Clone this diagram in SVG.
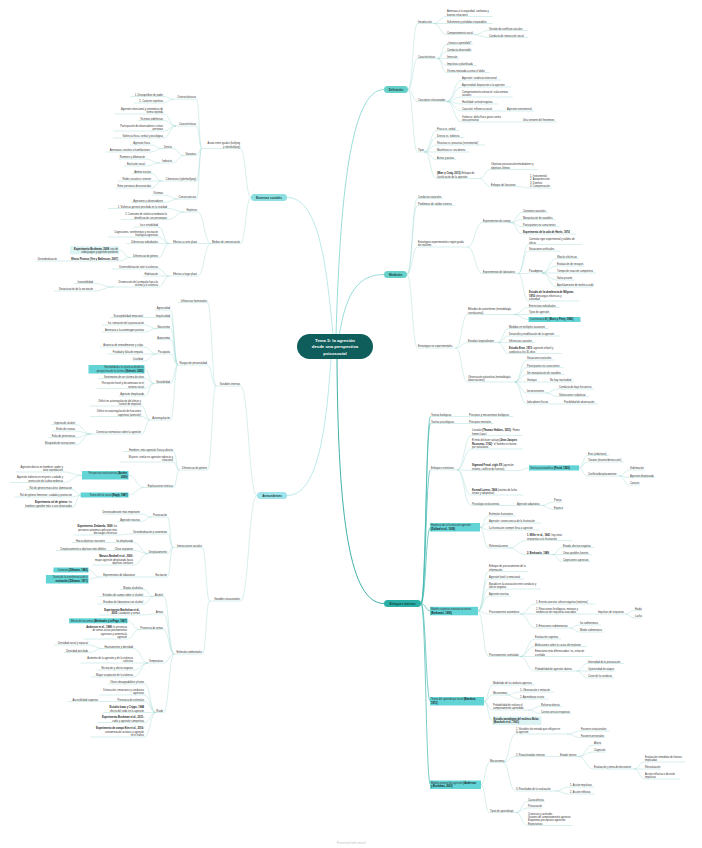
<svg xmlns="http://www.w3.org/2000/svg" width="702" height="848" viewBox="0 0 702 848">
<style>
.t{font-family:"Liberation Sans",Arial,sans-serif;font-size:2.55px;fill:#333}
.r{text-anchor:end}
.b{font-weight:700;fill:#1a1a1a}
.u{stroke:#9fd8d3;stroke-width:0.42;fill:none}
.c{stroke:#9fd8d3;stroke-width:0.42;fill:none}
.e{stroke:#3fb7af;stroke-width:0.7;fill:none}
.md{stroke:#6ccfc9;stroke-width:0.7;fill:none}
.ml{stroke:#9fe0e4;stroke-width:0.7;fill:none}
.me{stroke:#2aa79f;stroke-width:0.9;fill:none}
.hl{fill:#62d4d6}
.lb{fill:#dcf3f4}
.k{font-family:"Liberation Sans",Arial,sans-serif;font-size:3px;font-weight:700;fill:#123f3d;text-anchor:middle}
</style>
<rect width="702" height="848" fill="#ffffff"/>
<g id="connectors">
<path class="md" d="M336 336C340 200 350 89.5 384 89.5M339 337C346 290 360 274.5 384 274.5"/>
<path class="ml" d="M333 334C326 260 318 197.5 287 197.5M331 359C326 430 318 495.5 287 495.5"/>
<path class="me" d="M337 359C338 520 350 603.5 384 603.5"/>
<path class="c" d="M408 89.5C412.8 89.5 412.8 23.5 417.5 23.5M408 89.5C412.8 89.5 412.8 58.5 417.5 58.5M408 89.5C412.8 89.5 412.8 101.5 417.5 101.5M408 89.5C412.8 89.5 412.8 152 417.5 152"/>
<path class="c" d="M433.6 23.5C440 23.5 440 16.5 446.5 16.5M433.6 23.5H446.5M433.6 23.5C440 23.5 440 34.5 446.5 34.5M474.3 34.5C481.4 34.5 481.4 30.5 488.5 30.5M474.3 34.5C481.4 34.5 481.4 37.5 488.5 37.5"/>
<path class="c" d="M437.5 58.5C442 58.5 442 44.5 446.5 44.5M437.5 58.5C442 58.5 442 51.5 446.5 51.5M437.5 58.5H446.5M437.5 58.5C442 58.5 442 65.5 446.5 65.5M437.5 58.5C442 58.5 442 72.5 446.5 72.5"/>
<path class="c" d="M446.6 101.5C454 101.5 454 80 461.5 80M446.6 101.5C454 101.5 454 87 461.5 87M446.6 101.5C454 101.5 454 97 461.5 97M446.6 101.5C454 101.5 454 104 461.5 104M446.6 101.5C454 101.5 454 111 461.5 111M446.6 101.5C454 101.5 454 122 461.5 122M497.1 111H506.5M507.5 122H522.5"/>
<path class="c" d="M424.5 152C430.5 152 430.5 130.5 436.5 130.5M424.5 152C430.5 152 430.5 137.5 436.5 137.5M424.5 152C430.5 152 430.5 145 436.5 145M424.5 152H436.5M424.5 152C430.5 152 430.5 159.5 436.5 159.5M424.5 152C430.5 152 430.5 178.5 436.5 178.5M479.3 178.5C485 178.5 485 169.5 490.5 169.5M479.3 178.5C485 178.5 485 186.5 490.5 186.5M517 186.5C523.3 186.5 523.3 188 529.5 188"/>
<path class="c" d="M407 274.5C412.2 274.5 412.2 198.5 417.5 198.5M407 274.5C412.2 274.5 412.2 205.5 417.5 205.5M407 274.5C412.2 274.5 412.2 247 417.5 247M407 274.5C412.2 274.5 412.2 348 417.5 348"/>
<path class="c" d="M467.4 247C475 247 475 222.5 482.5 222.5M467.4 247C475 247 475 273.5 482.5 273.5M510.3 222.5C516.4 222.5 516.4 212.5 522.5 212.5M510.3 222.5C516.4 222.5 516.4 219.5 522.5 219.5M510.3 222.5C516.4 222.5 516.4 226.5 522.5 226.5M510.3 222.5C516.4 222.5 516.4 234 522.5 234"/>
<path class="c" d="M518.1 273.5C523.3 273.5 523.3 244.5 528.5 244.5M518.1 273.5C523.3 273.5 523.3 251 528.5 251M518.1 273.5H528.5M518.1 273.5C523.3 273.5 523.3 301 528.5 301M542 273C549.2 273 549.2 258.5 556.5 258.5M542 273C549.2 273 549.2 266 556.5 266M542 273H556.5M542 273C549.2 273 549.2 280 556.5 280M542 273C549.2 273 549.2 287 556.5 287"/>
<path class="c" d="M455.7 348C461.6 348 461.6 314.5 467.5 314.5M455.7 348C461.6 348 461.6 342.5 467.5 342.5M455.7 348C461.6 348 461.6 382 467.5 382M513.5 314.5C521 314.5 521 307.5 528.5 307.5M513.5 314.5H528.5M513.5 314.5C521 314.5 521 319.5 528.5 319.5"/>
<path class="c" d="M497.9 342.5C503.2 342.5 503.2 328.5 508.5 328.5M497.9 342.5C503.2 342.5 503.2 336 508.5 336M497.9 342.5H508.5M497.9 342.5C503.2 342.5 503.2 353.5 508.5 353.5"/>
<path class="c" d="M514.8 382C520.6 382 520.6 360 526.5 360M514.8 382C520.6 382 520.6 367.5 526.5 367.5M514.8 382C520.6 382 520.6 374.5 526.5 374.5M514.8 382H526.5M514.8 382C520.6 382 520.6 393 526.5 393M514.8 382C520.6 382 520.6 404 526.5 404M537.4 382H549.5M545.2 393C551.8 393 551.8 389 558.5 389M545.2 393C551.8 393 551.8 396.5 558.5 396.5M551.7 404H563.5"/>
<path class="e" d="M421 603.5C425.8 603.5 425.8 416.5 430.5 416.5M421 603.5C425.8 603.5 425.8 423.5 430.5 423.5M421 603.5C425.8 603.5 425.8 469.8 430.5 469.8M421 603.5C425.8 603.5 425.8 527.3 430.5 527.3M421 603.5C425.8 603.5 425.8 611 430.5 611M421 603.5C425.8 603.5 425.8 701.3 430.5 701.3M421 603.5C425.8 603.5 425.8 784.8 430.5 784.8"/>
<path class="c" d="M454.4 416.5H468.5M457 423.5H468.5M457 469.8C464.2 469.8 464.2 435.5 471.5 435.5M457 469.8C464.2 469.8 464.2 449 471.5 449M457 469.8C464.2 469.8 464.2 470.5 471.5 470.5M457 469.8C464.2 469.8 464.2 495 471.5 495M457 469.8C464.2 469.8 464.2 505.5 471.5 505.5"/>
<path class="c" d="M518.5 470.5C523.7 470.5 523.7 467.9 529 467.9M579 467.9C583.2 467.9 583.2 455.5 587.5 455.5M579 467.9C583.2 467.9 583.2 462 587.5 462M579 467.9C583.2 467.9 583.2 476 587.5 476M619.2 476C624.3 476 624.3 470 629.5 470M619.2 476C624.3 476 624.3 477.5 629.5 477.5M619.2 476C624.3 476 624.3 485 629.5 485M503.2 505.5H516.5M541.7 505.5C547.6 505.5 547.6 502 553.5 502M541.7 505.5C547.6 505.5 547.6 509.5 553.5 509.5"/>
<path class="c" d="M480 527.3C484.2 527.3 484.2 516 488.5 516M480 527.3C484.2 527.3 484.2 523 488.5 523M480 527.3C484.2 527.3 484.2 530 488.5 530M480 527.3C484.2 527.3 484.2 548 488.5 548M508.5 548C517.5 548 517.5 540.5 526.5 540.5M508.5 548C517.5 548 517.5 554.5 526.5 554.5M552.2 554.5C557.3 554.5 557.3 547.5 562.5 547.5M552.2 554.5H562.5M552.2 554.5C557.3 554.5 557.3 561.5 562.5 561.5"/>
<path class="c" d="M478 611C483.2 611 483.2 571.5 488.5 571.5M478 611C483.2 611 483.2 579 488.5 579M478 611C483.2 611 483.2 589 488.5 589M478 611C483.2 611 483.2 596 488.5 596M478 611C483.2 611 483.2 614 488.5 614M478 611C483.2 611 483.2 656.5 488.5 656.5"/>
<path class="c" d="M520.2 614C527.8 614 527.8 604 535.5 604M520.2 614H535.5M520.2 614C527.8 614 527.8 628 535.5 628M584.1 614H597.5M625.3 614C629.9 614 629.9 610.5 634.5 610.5M625.3 614C629.9 614 629.9 618 634.5 618M569.8 628C574.6 628 574.6 625 579.5 625M569.8 628C574.6 628 574.6 632 579.5 632"/>
<path class="c" d="M520.2 656.5C527.3 656.5 527.3 639 534.5 639M520.2 656.5C527.3 656.5 527.3 646.5 534.5 646.5M520.2 656.5H534.5M520.2 656.5C527.3 656.5 527.3 671 534.5 671M576.6 671C582 671 582 663.5 587.5 663.5M576.6 671H587.5M576.6 671C582 671 582 678 587.5 678"/>
<path class="c" d="M484 701.3C488.2 701.3 488.2 685 492.5 685M484 701.3C488.2 701.3 488.2 695 492.5 695M484 701.3C488.2 701.3 488.2 710 492.5 710M484 701.3C488.2 701.3 488.2 720.8 492.5 720.8M506 695C512.7 695 512.7 692 519.5 692M506 695C512.7 695 512.7 699 519.5 699M528.1 710C534.3 710 534.3 706.5 540.5 706.5M528.1 710C534.3 710 534.3 713.5 540.5 713.5"/>
<path class="c" d="M481 784.8C485.2 784.8 485.2 762.5 489.5 762.5M481 784.8C485.2 784.8 485.2 812.5 489.5 812.5M503 762.5C509.2 762.5 509.2 734 515.5 734M503 762.5C509.2 762.5 509.2 756.5 515.5 756.5M503 762.5C509.2 762.5 509.2 791 515.5 791M566.7 734C573.6 734 573.6 731 580.5 731M566.7 734C573.6 734 573.6 737.5 580.5 737.5M548.5 756.5H559.5"/>
<path class="c" d="M578.2 756.5C585.8 756.5 585.8 745 593.5 745M578.2 756.5C585.8 756.5 585.8 752 593.5 752M578.2 756.5C585.8 756.5 585.8 769 593.5 769M634.3 769C639.4 769 639.4 762 644.5 762M634.3 769H644.5M634.3 769C639.4 769 639.4 779 644.5 779M555 791C562.2 791 562.2 787 569.5 787M555 791C562.2 791 562.2 794 569.5 794M516 812.5C521.7 812.5 521.7 801.5 527.5 801.5M516 812.5C521.7 812.5 521.7 808 527.5 808M516 812.5C521.7 812.5 521.7 825.5 527.5 825.5"/>
<path class="c" d="M251 197.5C245.7 197.5 245.7 148.5 240.5 148.5M251 197.5C245.7 197.5 245.7 243.5 240.5 243.5"/>
<path class="c" d="M201.8 148.5C199.1 148.5 199.1 99.2 196.5 99.2M201.8 148.5C199.1 148.5 199.1 126 196.5 126M201.8 148.5C199.1 148.5 199.1 155.5 196.5 155.5M201.8 148.5C199.1 148.5 199.1 181 196.5 181M201.8 148.5C199.1 148.5 199.1 199 196.5 199"/>
<path class="c" d="M173.4 99.2C168.4 99.2 168.4 96.5 163.5 96.5M173.4 99.2C168.4 99.2 168.4 103 163.5 103M176 126C169.7 126 169.7 114 163.5 114M176 126C169.7 126 169.7 120.5 163.5 120.5M176 126C169.7 126 169.7 131 163.5 131M176 126C169.7 126 169.7 138 163.5 138"/>
<path class="c" d="M183.8 155.5C178.1 155.5 178.1 148.5 172.5 148.5M183.8 155.5C178.1 155.5 178.1 163 172.5 163M162.4 148.5C156.4 148.5 156.4 145 150.5 145M162.4 148.5C156.4 148.5 156.4 152 150.5 152M159.8 163C152.6 163 152.6 159 145.5 159M159.8 163C152.6 163 152.6 166 145.5 166"/>
<path class="c" d="M161.7 181C156.6 181 156.6 173.5 151.5 173.5M161.7 181H151.5M161.7 181C156.6 181 156.6 188 151.5 188M178.6 199C171 199 171 195 163.5 195M178.6 199C171 199 171 202.5 163.5 202.5"/>
<path class="c" d="M210.9 243.5C204.2 243.5 204.2 212 197.5 212M210.9 243.5H197.5M210.9 243.5C204.2 243.5 204.2 276 197.5 276M184.8 212C176.1 212 176.1 208.5 167.5 208.5M184.8 212C176.1 212 176.1 219.5 167.5 219.5"/>
<path class="c" d="M169.2 243.5C163.8 243.5 163.8 227 158.5 227M169.2 243.5C163.8 243.5 163.8 237 158.5 237M169.2 243.5H158.5M169.2 243.5C163.8 243.5 163.8 257.5 158.5 257.5M130.2 257.5C124.6 257.5 124.6 250.3 119 250.3M130.2 257.5C124.6 257.5 124.6 261 119 261M64.3 261H57.5"/>
<path class="c" d="M169.2 276C163.8 276 163.8 269 158.5 269M169.2 276H158.5M169.2 276C163.8 276 163.8 287 158.5 287M113.3 287C103.4 287 103.4 283.5 93.5 283.5M113.3 287C103.4 287 103.4 291 93.5 291"/>
<path class="c" d="M257 495.5C248.7 495.5 248.7 386 240.5 386M257 495.5C248.7 495.5 248.7 601 240.5 601M216.1 386C211.8 386 211.8 302.5 207.5 302.5M216.1 386C211.8 386 211.8 365 207.5 365M216.1 386C211.8 386 211.8 470 207.5 470"/>
<path class="c" d="M177.9 365C174.2 365 174.2 310 170.5 310M177.9 365C174.2 365 174.2 317.5 170.5 317.5M177.9 365C174.2 365 174.2 328.5 170.5 328.5M177.9 365C174.2 365 174.2 339.5 170.5 339.5M177.9 365C174.2 365 174.2 354 170.5 354M177.9 365C174.2 365 174.2 383.5 170.5 383.5M177.9 365C174.2 365 174.2 420 170.5 420"/>
<path class="c" d="M153.9 317.5H143.5M156.5 328.5C150.5 328.5 150.5 325 144.5 325M156.5 328.5C150.5 328.5 150.5 332 144.5 332M156.5 354C150 354 150 347 143.5 347M156.5 354H143.5M156.5 354C150 354 150 361 143.5 361"/>
<path class="c" d="M153.9 383.5C149.2 383.5 149.2 369.2 144.5 369.2M153.9 383.5C149.2 383.5 149.2 378.5 144.5 378.5M153.9 383.5C149.2 383.5 149.2 388.5 144.5 388.5M153.9 383.5C149.2 383.5 149.2 396 144.5 396"/>
<path class="c" d="M150 420C145.7 420 145.7 406 141.5 406M150 420C145.7 420 145.7 416.5 141.5 416.5M150 420C145.7 420 145.7 434 141.5 434M91.1 434C83.3 434 83.3 424.5 75.5 424.5M91.1 434C83.3 434 83.3 431 75.5 431M91.1 434C83.3 434 83.3 437.5 75.5 437.5M91.1 434C83.3 434 83.3 444.5 75.5 444.5"/>
<path class="c" d="M179.2 470C176.3 470 176.3 451.5 173.5 451.5M179.2 470C176.3 470 176.3 462 173.5 462M179.2 470C176.3 470 176.3 487.5 173.5 487.5M143.9 487.5C136.2 487.5 136.2 475.2 128.5 475.2M143.9 487.5C136.2 487.5 136.2 495 128.5 495"/>
<path class="c" d="M82 475.2C72.7 475.2 72.7 472 63.5 472M82 475.2C72.7 475.2 72.7 482.5 63.5 482.5M80.7 495C76.6 495 76.6 489.5 72.5 489.5M80.7 495C76.6 495 76.6 497 72.5 497M80.7 495C76.6 495 76.6 507.5 72.5 507.5"/>
<path class="c" d="M209.6 601C206 601 206 547.5 202.5 547.5M209.6 601C206 601 206 654 202.5 654M172.9 547.5C170.2 547.5 170.2 517 167.5 517M172.9 547.5C170.2 547.5 170.2 534 167.5 534M172.9 547.5C170.2 547.5 170.2 553.5 167.5 553.5M172.9 547.5C170.2 547.5 170.2 577 167.5 577"/>
<path class="c" d="M152.2 517C146.3 517 146.3 514 140.5 514M152.2 517C146.3 517 146.3 521.5 140.5 521.5M130.1 534C123.8 534 123.8 535 117.5 535M148.3 553.5C140.9 553.5 140.9 542.5 133.5 542.5M148.3 553.5C140.9 553.5 140.9 550.5 133.5 550.5M148.3 553.5C140.9 553.5 140.9 565 133.5 565M114.3 542.5H105.5M111.7 550.5H106.5M153.5 577H135.5M99.4 577C94 577 94 570 88.5 570M99.4 577C94 577 94 579.2 88.5 579.2"/>
<path class="c" d="M174.2 654C168.8 654 168.8 596.5 163.5 596.5M174.2 654C168.8 654 168.8 614 163.5 614M174.2 654C168.8 654 168.8 629.5 163.5 629.5M174.2 654C168.8 654 168.8 663 163.5 663M174.2 654C168.8 654 168.8 712.5 163.5 712.5"/>
<path class="c" d="M153.4 596.5C148.4 596.5 148.4 589.5 143.5 589.5M153.4 596.5H143.5M153.4 596.5C148.4 596.5 148.4 604 143.5 604M156 614C148.2 614 148.2 615 140.5 615M139.1 629.5C133.3 629.5 133.3 620.8 127.5 620.8M139.1 629.5C133.3 629.5 133.3 639 127.5 639"/>
<path class="c" d="M148.2 663C140.8 663 140.8 648.5 133.5 648.5M148.2 663H133.5M148.2 663C140.8 663 140.8 670 133.5 670M148.2 663C140.8 663 140.8 677 133.5 677M102.6 648.5C95.5 648.5 95.5 645 88.5 645M102.6 648.5C95.5 648.5 95.5 652.5 88.5 652.5"/>
<path class="c" d="M156 712.5C150.2 712.5 150.2 684 144.5 684M156 712.5C150.2 712.5 150.2 695 144.5 695M156 712.5C150.2 712.5 150.2 701.5 144.5 701.5M156 712.5H144.5M156 712.5C150.2 712.5 150.2 722.5 144.5 722.5M156 712.5C150.2 712.5 150.2 737 144.5 737M114.9 701.5H98.5"/>
</g>

<g id="central"><rect x="297" y="334" width="76" height="25" rx="12.5" fill="#0f5e5b"/><text font-family="Liberation Sans, Arial, sans-serif" font-size="4.3" font-weight="700" fill="#ffffff" text-anchor="middle"><tspan x="335" y="341.5">Tema 5: la agresión</tspan><tspan x="335" y="348.1">desde una perspectiva</tspan><tspan x="335" y="354.6">psicosocial</tspan></text></g>

<g id="definicion"><rect x="384" y="86" width="24" height="7" rx="3.5" fill="#66d0cb"/><text class="k" x="396" y="90.6">Definición</text></g>
<g id="d1"><text class="t" x="418" y="22.7">Introducción</text><path class="u" d="M417.5 23.5H433.6"/></g>
<g id="d1a"><text class="t"><tspan x="447" y="12.3">Amenaza a la seguridad, confianza y</tspan><tspan x="447" y="15.7">buenas relaciones</tspan></text><path class="u" d="M446.5 16.5H492.5"/></g>
<g id="d1b"><text class="t" x="447" y="22.7">Sufrimiento y pérdidas irreparables</text><path class="u" d="M446.5 23.5H492.5"/></g>
<g id="d1c"><text class="t" x="447" y="33.7">Comportamiento social</text><path class="u" d="M446.5 34.5H474.3"/></g>
<g id="d1c1"><text class="t" x="489" y="29.7">Gestión de conflictos sociales</text><path class="u" d="M488.5 30.5H528"/></g>
<g id="d1c2"><text class="t" x="489" y="36.7">Conducta de interacción social</text><path class="u" d="M488.5 37.5H528"/></g>
<g id="d2"><text class="t" x="418" y="57.7">Características</text><path class="u" d="M417.5 58.5H437.5"/></g>
<g id="d2a"><text class="t" x="447" y="43.7">¿Innato o aprendido?</text><path class="u" d="M446.5 44.5H473"/></g>
<g id="d2b"><text class="t" x="447" y="50.7">Conducta observable</text><path class="u" d="M446.5 51.5H471.7"/></g>
<g id="d2c"><text class="t" x="447" y="57.7">Intención</text><path class="u" d="M446.5 58.5H458.7"/></g>
<g id="d2d"><text class="t" x="447" y="64.7">Impulsiva o planificada</text><path class="u" d="M446.5 65.5H476.9"/></g>
<g id="d2e"><text class="t" x="447" y="71.7">Víctima motivada a evitar el daño</text><path class="u" d="M446.5 72.5H489.9"/></g>
<g id="d3"><text class="t" x="418" y="100.7">Conceptos relacionados</text><path class="u" d="M417.5 101.5H446.6"/></g>
<g id="d3a"><text class="t" x="462" y="79.2">Agresión: conducta intencional</text><path class="u" d="M461.5 80H501"/></g>
<g id="d3b"><text class="t" x="462" y="86.2">Agresividad: disposición a la agresión</text><path class="u" d="M461.5 87H511.4"/></g>
<g id="d3c"><text class="t"><tspan x="462" y="92.8">Comportamiento antisocial: viola normas</tspan><tspan x="462" y="96.2">sociales</tspan></text><path class="u" d="M461.5 97H512.7"/></g>
<g id="d3d"><text class="t" x="462" y="103.2">Hostilidad: actitud negativa</text><path class="u" d="M461.5 104H498.4"/></g>
<g id="d3e"><text class="t" x="462" y="110.2">Coacción: influencia social</text><path class="u" d="M461.5 111H497.1"/></g>
<g id="d3e1"><text class="t" x="507" y="110.2">Agresión instrumental</text><path class="u" d="M506.5 111H534.3"/></g>
<g id="d3f"><text class="t"><tspan x="462" y="117.8">Violencia: daño físico grave contra</tspan><tspan x="462" y="121.2">otras personas</tspan></text><path class="u" d="M461.5 122H507.5"/></g>
<g id="d3f1"><text class="t" x="523" y="121.2">Una vertiente del fenómeno</text><path class="u" d="M522.5 122H556.8"/></g>
<g id="d4"><text class="t" x="418" y="151.2">Tipos</text><path class="u" d="M417.5 152H424.5"/></g>
<g id="d4a"><text class="t" x="437" y="129.7">Física vs. verbal</text><path class="u" d="M436.5 130.5H459.1"/></g>
<g id="d4b"><text class="t" x="437" y="136.7">Directa vs. indirecta</text><path class="u" d="M436.5 137.5H464.3"/></g>
<g id="d4c"><text class="t" x="437" y="144.2">Reactiva vs. proactiva (instrumental)</text><path class="u" d="M436.5 145H485.1"/></g>
<g id="d4d"><text class="t" x="437" y="151.2">Manifiesta vs. encubierta</text><path class="u" d="M436.5 152H469.5"/></g>
<g id="d4e"><text class="t" x="437" y="158.7">Activa y pasiva</text><path class="u" d="M436.5 159.5H456.5"/></g>
<g id="d4f"><text class="t"><tspan x="437" y="174.3"><tspan class="b">(Warr y Craig, 2011)</tspan> Enfoque de</tspan><tspan x="437" y="177.7">clasificación de la agresión</tspan></text><path class="u" d="M436.5 178.5H479.3"/></g>
<g id="d4f1"><text class="t"><tspan x="491" y="165.3">Objetivos psicosociales/mediadores y</tspan><tspan x="491" y="168.7">objetivos últimos</tspan></text><path class="u" d="M490.5 169.5H537.8"/></g>
<g id="d4f2"><text class="t" x="491" y="185.7">Enfoque de funciones</text><path class="u" d="M490.5 186.5H517"/></g>
<g id="d4f2a"><text class="t"><tspan x="530" y="177">1. Instrumental</tspan><tspan x="530" y="180.4">2. Autoprotección</tspan><tspan x="530" y="183.8">3. Dominio</tspan><tspan x="530" y="187.2">4. Compensación</tspan></text><path class="u" d="M529.5 188H552.1"/></g>

<g id="medicion"><rect x="384" y="271" width="23" height="7" rx="3.5" fill="#66d0cb"/><text class="k" x="395.5" y="275.6">Medición</text></g>
<g id="m1"><text class="t" x="418" y="197.7">Conductas naturales</text><path class="u" d="M417.5 198.5H442.7"/></g>
<g id="m2"><text class="t" x="418" y="204.7">Problemas de validez externa</text><path class="u" d="M417.5 205.5H454.4"/></g>
<g id="m3"><text class="t"><tspan x="418" y="242.8">Estrategias experimentales según grado</tspan><tspan x="418" y="246.2">de realismo</tspan></text><path class="u" d="M417.5 247H467.4"/></g>
<g id="m3a"><text class="t" x="483" y="221.7">Experimentos de campo</text><path class="u" d="M482.5 222.5H510.3"/></g>
<g id="m3a1"><text class="t" x="523" y="211.7">Contextos naturales</text><path class="u" d="M522.5 212.5H547.7"/></g>
<g id="m3a2"><text class="t" x="523" y="218.7">Manipulación de variables</text><path class="u" d="M522.5 219.5H555.5"/></g>
<g id="m3a3"><text class="t" x="523" y="225.7">Participantes no conscientes</text><path class="u" d="M522.5 226.5H559.4"/></g>
<g id="m3a4"><text class="t b" x="523" y="233.2">Experimento de la cola de Harris, 1974</text><path class="u" d="M522.5 234H576.2"/></g>
<g id="m3b"><text class="t" x="483" y="272.7">Experimentos de laboratorio</text><path class="u" d="M482.5 273.5H518.1"/></g>
<g id="m3b1"><text class="t"><tspan x="529" y="240.3">Controlar rigor experimental y validez de</tspan><tspan x="529" y="243.7">efecto</tspan></text><path class="u" d="M528.5 244.5H582.3"/></g>
<g id="m3b2"><text class="t" x="529" y="250.2">Situaciones artificiales</text><path class="u" d="M528.5 251H560.2"/></g>
<g id="m3b3"><text class="t" x="529" y="272.2">Paradigmas</text><path class="u" d="M528.5 273H542"/></g>
<g id="m3b3a"><text class="t" x="557" y="257.7">Shocks eléctricos</text><path class="u" d="M556.5 258.5H579.1"/></g>
<g id="m3b3b"><text class="t" x="557" y="265.2">Evaluación de ensayos</text><path class="u" d="M556.5 266H584.3"/></g>
<g id="m3b3c"><text class="t" x="557" y="272.2">Tiempo de reacción competitivo</text><path class="u" d="M556.5 273H596"/></g>
<g id="m3b3d"><text class="t" x="557" y="279.2">Salsa picante</text><path class="u" d="M556.5 280H573.9"/></g>
<g id="m3b3e"><text class="t" x="557" y="286.2">Apuñalamiento de muñeca vudú</text><path class="u" d="M556.5 287H593.4"/></g>
<g id="m3b4"><text class="t"><tspan class="b" x="529" y="293.4">Estudio de la obediencia de Milgram,</tspan><tspan x="529" y="296.8"><tspan class="b">1974:</tspan> descargas eléctricas y</tspan><tspan x="529" y="300.2">autoridad</tspan></text><path class="u" d="M528.5 301H579.4"/></g>
<g id="m4"><text class="t" x="418" y="347.2">Estrategias no experimentales</text><path class="u" d="M417.5 348H455.7"/></g>
<g id="m4a"><text class="t"><tspan x="468" y="310.3">Métodos de autoinforme (metodología</tspan><tspan x="468" y="313.7">correlacional)</tspan></text><path class="u" d="M467.5 314.5H513.5"/></g>
<g id="m4a1"><text class="t" x="529" y="306.7">Entrevistas individuales</text><path class="u" d="M528.5 307.5H560.2"/></g>
<g id="m4a2"><text class="t" x="529" y="313.2">Tipos de agresión</text><path class="u" d="M528.5 314H551.1"/></g>
<g id="m4a3"><rect class="hl" x="528.5" y="317" width="52" height="5"/><text class="t" x="529.8" y="320.4">Cuestionario AQ <tspan class="b">(Buss y Perry, 1992)</tspan></text></g>
<g id="m4b"><text class="t" x="468" y="341.7">Estudios longitudinales</text><path class="u" d="M467.5 342.5H497.9"/></g>
<g id="m4b1"><text class="t" x="509" y="327.7">Medidas en múltiples ocasiones</text><path class="u" d="M508.5 328.5H548"/></g>
<g id="m4b2"><text class="t" x="509" y="335.2">Desarrollo y modificación de la agresión</text><path class="u" d="M508.5 336H561"/></g>
<g id="m4b3"><text class="t" x="509" y="341.7">Influencias causales</text><path class="u" d="M508.5 342.5H535"/></g>
<g id="m4b4"><text class="t"><tspan x="509" y="349.3"><tspan class="b">Estudio Eron, 1972:</tspan> agresión infantil y</tspan><tspan x="509" y="352.7">conducta a los 30 años</tspan></text><path class="u" d="M508.5 353.5H561.6"/></g>
<g id="m4c"><text class="t"><tspan x="468" y="377.8">Observación naturalista (metodología</tspan><tspan x="468" y="381.2">observacional)</tspan></text><path class="u" d="M467.5 382H514.8"/></g>
<g id="m4c1"><text class="t" x="527" y="359.2">Situaciones naturales</text><path class="u" d="M526.5 360H554.3"/></g>
<g id="m4c2"><text class="t" x="527" y="366.7">Participantes no conscientes</text><path class="u" d="M526.5 367.5H563.4"/></g>
<g id="m4c3"><text class="t" x="527" y="373.7">Sin manipulación de variables</text><path class="u" d="M526.5 374.5H564.7"/></g>
<g id="m4c4"><text class="t" x="527" y="381.2">Ventajas</text><path class="u" d="M526.5 382H537.4"/></g>
<g id="m4c4a"><text class="t" x="550" y="381.2">No hay reactividad</text><path class="u" d="M549.5 382H573.4"/></g>
<g id="m4c5"><text class="t" x="527" y="392.2">Inconvenientes</text><path class="u" d="M526.5 393H545.2"/></g>
<g id="m4c5a"><text class="t" x="559" y="388.2">Conducta de baja frecuencia</text><path class="u" d="M558.5 389H594.1"/></g>
<g id="m4c5b"><text class="t" x="559" y="395.7">Valoraciones subjetivas</text><path class="u" d="M558.5 396.5H588.9"/></g>
<g id="m4c6"><text class="t" x="527" y="403.2">Indicadores físicos</text><path class="u" d="M526.5 404H551.7"/></g>
<g id="m4c6a"><text class="t" x="564" y="403.2">Posibilidad de observación</text><path class="u" d="M563.5 404H597.8"/></g>

<g id="enfoques"><rect x="384" y="600" width="37" height="7" rx="3.5" fill="#2bb0a8"/><text class="k" x="402.5" y="604.6">Enfoques teóricos</text></g>
<g id="e1"><text class="t" x="431" y="415.7">Teorías biológicas</text><path class="u" d="M430.5 416.5H454.4"/></g>
<g id="e1a"><text class="t" x="469" y="415.7">Principios y mecanismos biológicos</text><path class="u" d="M468.5 416.5H513.2"/></g>
<g id="e2"><text class="t" x="431" y="422.7">Teorías psicológicas</text><path class="u" d="M430.5 423.5H457"/></g>
<g id="e2a"><text class="t" x="469" y="422.7">Principios mentales</text><path class="u" d="M468.5 423.5H493.7"/></g>
<g id="e3"><text class="t" x="431" y="469">Enfoques instintivos</text><path class="u" d="M430.5 469.8H457"/></g>
<g id="e3a"><text class="t"><tspan x="472" y="431.3">Leviatán <tspan class="b">(Thomas Hobbes, 1651)</tspan>: 'Homo</tspan><tspan x="472" y="434.7">homini lupus'</tspan></text><path class="u" d="M471.5 435.5H522.2"/></g>
<g id="e3b"><text class="t"><tspan x="472" y="441.4">El mito del buen salvaje <tspan class="b">(Jean Jacques</tspan></tspan><tspan x="472" y="444.8"><tspan class="b">Rousseau, 1762)</tspan>: 'el hombre es bueno</tspan><tspan x="472" y="448.2">por naturaleza'</tspan></text><path class="u" d="M471.5 449H522.7"/></g>
<g id="e3c"><text class="t"><tspan x="472" y="466.3"><tspan class="b">Sigmund Freud, siglo XX</tspan> (agresión:</tspan><tspan x="472" y="469.7">instinto, conflicto de fuerzas)</tspan></text><path class="u" d="M471.5 470.5H518.5"/></g>
<g id="e3c1"><rect class="hl" x="529" y="465.3" width="50" height="5.2"/><text class="t" x="530" y="468.9">Teoría psicoanalítica <tspan class="b">(Freud, 1920)</tspan></text></g>
<g id="e3c1a"><text class="t" x="588" y="454.7">Eros (vida/sexo)</text><path class="u" d="M587.5 455.5H608.8"/></g>
<g id="e3c1b"><text class="t" x="588" y="461.2">Tánatos (muerte/destrucción)</text><path class="u" d="M587.5 462H624.4"/></g>
<g id="e3c1c"><text class="t" x="588" y="475.2">Conflicto/desplazamiento</text><path class="u" d="M587.5 476H619.2"/></g>
<g id="e3c1c1"><text class="t" x="630" y="469.2">Sublimación</text><path class="u" d="M629.5 470H644.3"/></g>
<g id="e3c1c2"><text class="t" x="630" y="476.7">Agresión desplazada</text><path class="u" d="M629.5 477.5H654.7"/></g>
<g id="e3c1c3"><text class="t" x="630" y="484.2">Catarsis</text><path class="u" d="M629.5 485H640.4"/></g>
<g id="e3d"><text class="t"><tspan x="472" y="490.8"><tspan class="b">Konrad Lorenz, 1966</tspan> (instinto de lucha</tspan><tspan x="472" y="494.2">innato y adaptativo)</tspan></text><path class="u" d="M471.5 495H523.3"/></g>
<g id="e3e"><text class="t" x="472" y="504.7">Psicología evolucionista</text><path class="u" d="M471.5 505.5H503.2"/></g>
<g id="e3e1"><text class="t" x="517" y="504.7">Agresión adaptativa</text><path class="u" d="M516.5 505.5H541.7"/></g>
<g id="e3e1a"><text class="t" x="554" y="501.2">Pareja</text><path class="u" d="M553.5 502H561.8"/></g>
<g id="e3e1b"><text class="t" x="554" y="508.7">Especie</text><path class="u" d="M553.5 509.5H563.1"/></g>
<g id="e4"><rect class="hl" x="430" y="523" width="50" height="8.5"/><text class="t"><tspan x="431" y="526.3">Hipótesis de la frustración-agresión</tspan><tspan class="b" x="431" y="529.7">(Dollard et al., 1939)</tspan></text></g>
<g id="e4a"><text class="t" x="489" y="515.2">Estímulos frustrantes</text><path class="u" d="M488.5 516H516.3"/></g>
<g id="e4b"><text class="t" x="489" y="522.2">Agresión: consecuencia de la frustración</text><path class="u" d="M488.5 523H541"/></g>
<g id="e4c"><text class="t" x="489" y="529.2">La frustración siempre lleva a agresión</text><path class="u" d="M488.5 530H539.7"/></g>
<g id="e4d"><text class="t" x="489" y="547.2">Reformulaciones</text><path class="u" d="M488.5 548H508.5"/></g>
<g id="e4d1"><text class="t"><tspan x="527" y="536.3"><tspan class="b">1. Miller et al., 1941</tspan>: hay otras</tspan><tspan x="527" y="539.7">respuestas a la frustración</tspan></text><path class="u" d="M526.5 540.5H572.1"/></g>
<g id="e4d2"><text class="t b" x="527" y="553.7">2. Berkowitz, 1989</text><path class="u" d="M526.5 554.5H552.2"/></g>
<g id="e4d2a"><text class="t" x="563" y="546.7">Estado afectivo negativo</text><path class="u" d="M562.5 547.5H594.2"/></g>
<g id="e4d2b"><text class="t" x="563" y="553.7">Otras posibles fuentes</text><path class="u" d="M562.5 554.5H591.6"/></g>
<g id="e4d2c"><text class="t" x="563" y="560.7">Cogniciones agresivas</text><path class="u" d="M562.5 561.5H590.3"/></g>
<g id="e5"><rect class="hl" x="430" y="606.8" width="48" height="8.5"/><text class="t"><tspan x="431" y="610.1">Modelo cognitivo-neoasociacionista</tspan><tspan class="b" x="431" y="613.5">(Berkowitz, 1993)</tspan></text></g>
<g id="e5a"><text class="t"><tspan x="489" y="567.3">Enfoque de procesamiento de la</tspan><tspan x="489" y="570.7">información</tspan></text><path class="u" d="M488.5 571.5H528"/></g>
<g id="e5b"><text class="t" x="489" y="578.2">Agresión hostil o emocional</text><path class="u" d="M488.5 579H524.1"/></g>
<g id="e5c"><text class="t"><tspan x="489" y="584.8">Basado en la asociación entre conducta y</tspan><tspan x="489" y="588.2">afecto negativo</tspan></text><path class="u" d="M488.5 589H541"/></g>
<g id="e5d"><text class="t" x="489" y="595.2">Agresión reactiva</text><path class="u" d="M488.5 596H511.1"/></g>
<g id="e5e"><text class="t" x="489" y="613.2">Procesamiento automático</text><path class="u" d="M488.5 614H520.2"/></g>
<g id="e5e1"><text class="t" x="536" y="603.2">1. Evento aversivo: afecto negativo (malestar)</text><path class="u" d="M535.5 604H595.8"/></g>
<g id="e5e2"><text class="t"><tspan x="536" y="609.8">2. Reacciones fisiológicas, motoras y</tspan><tspan x="536" y="613.2">tendencias de respuesta asociadas</tspan></text><path class="u" d="M535.5 614H584.1"/></g>
<g id="e5e2a"><text class="t" x="598" y="613.2">Impulsos de respuesta</text><path class="u" d="M597.5 614H625.3"/></g>
<g id="e5e2a1"><text class="t" x="635" y="609.7">Huida</text><path class="u" d="M634.5 610.5H641.5"/></g>
<g id="e5e2a2"><text class="t" x="635" y="617.2">Lucha</text><path class="u" d="M634.5 618H641.5"/></g>
<g id="e5e3"><text class="t" x="536" y="627.2">3. Emociones rudimentarias</text><path class="u" d="M535.5 628H569.8"/></g>
<g id="e5e3a"><text class="t" x="580" y="624.2">Ira rudimentaria</text><path class="u" d="M579.5 625H600.8"/></g>
<g id="e5e3b"><text class="t" x="580" y="631.2">Miedo rudimentario</text><path class="u" d="M579.5 632H603.4"/></g>
<g id="e5f"><text class="t" x="489" y="655.7">Procesamiento controlado</text><path class="u" d="M488.5 656.5H520.2"/></g>
<g id="e5f1"><text class="t" x="535" y="638.2">Evaluación cognitiva</text><path class="u" d="M534.5 639H561"/></g>
<g id="e5f2"><text class="t" x="535" y="645.7">Atribuciones sobre la causa del malestar</text><path class="u" d="M534.5 646.5H587"/></g>
<g id="e5f3"><text class="t"><tspan x="535" y="652.3">Emociones más diferenciadas: ira, irritación</tspan><tspan x="535" y="655.7">o enfado</tspan></text><path class="u" d="M534.5 656.5H592.2"/></g>
<g id="e5f4"><text class="t" x="535" y="670.2">Probabilidad de agresión abierta</text><path class="u" d="M534.5 671H576.6"/></g>
<g id="e5f4a"><text class="t" x="588" y="662.7">Intensidad de la provocación</text><path class="u" d="M587.5 663.5H624.4"/></g>
<g id="e5f4b"><text class="t" x="588" y="670.2">Oportunidad de ataque</text><path class="u" d="M587.5 671H615.3"/></g>
<g id="e5f4c"><text class="t" x="588" y="677.2">Coste de la conducta</text><path class="u" d="M587.5 678H614"/></g>
<g id="e6"><rect class="hl" x="430" y="697" width="54" height="8.5"/><text class="t"><tspan x="431" y="700.3">Teoría del aprendizaje social <tspan class="b">(Bandura,</tspan></tspan><tspan class="b" x="431" y="703.7">1973)</tspan></text></g>
<g id="e6a"><text class="t" x="493" y="684.2">Modelado de la conducta agresiva</text><path class="u" d="M492.5 685H534.6"/></g>
<g id="e6b"><text class="t" x="493" y="694.2">Mecanismos</text><path class="u" d="M492.5 695H506"/></g>
<g id="e6b1"><text class="t" x="520" y="691.2">1. Observación e imitación</text><path class="u" d="M519.5 692H553.8"/></g>
<g id="e6b2"><text class="t" x="520" y="698.2">2. Aprendizaje vicario</text><path class="u" d="M519.5 699H548.6"/></g>
<g id="e6c"><text class="t"><tspan x="493" y="705.8">Probabilidad de realizar el</tspan><tspan x="493" y="709.2">comportamiento aprendido</tspan></text><path class="u" d="M492.5 710H528.1"/></g>
<g id="e6c1"><text class="t" x="541" y="705.7">Refuerzo directo</text><path class="u" d="M540.5 706.5H561.8"/></g>
<g id="e6c2"><text class="t" x="541" y="712.7">Consecuencias negativas</text><path class="u" d="M540.5 713.5H570.9"/></g>
<g id="e6d"><rect class="lb" x="492.5" y="716.5" width="49" height="8.5"/><text class="t b"><tspan x="493.5" y="719.8">Estudio paradigma del muñeco Bobo</tspan><tspan x="493.5" y="723.2">(Bandura et al., 1961)</tspan></text></g>
<g id="e7"><rect class="hl" x="430" y="780.5" width="51" height="8.5"/><text class="t"><tspan x="431" y="783.8">Modelo general de agresión <tspan class="b">(Anderson</tspan></tspan><tspan class="b" x="431" y="787.2">y Bushman, 2002)</tspan></text></g>
<g id="e7a"><text class="t" x="490" y="761.7">Mecanismos</text><path class="u" d="M489.5 762.5H503"/></g>
<g id="e7a1"><text class="t"><tspan x="516" y="729.8">1. Variables de entrada que influyen en</tspan><tspan x="516" y="733.2">la agresión</tspan></text><path class="u" d="M515.5 734H566.7"/></g>
<g id="e7a1a"><text class="t" x="581" y="730.2">Factores situacionales</text><path class="u" d="M580.5 731H609.6"/></g>
<g id="e7a1b"><text class="t" x="581" y="736.7">Factores personales</text><path class="u" d="M580.5 737.5H605.7"/></g>
<g id="e7a2"><text class="t" x="516" y="755.7">2. Rutas/estados internos</text><path class="u" d="M515.5 756.5H548.5"/></g>
<g id="e7a2a"><text class="t" x="560" y="755.7">Estado interno</text><path class="u" d="M559.5 756.5H578.2"/></g>
<g id="e7a2a1"><text class="t" x="594" y="744.2">Afecto</text><path class="u" d="M593.5 745H601.8"/></g>
<g id="e7a2a2"><text class="t" x="594" y="751.2">Cognición</text><path class="u" d="M593.5 752H605.7"/></g>
<g id="e7a2a3"><text class="t" x="594" y="768.2">Evaluación y toma de decisiones</text><path class="u" d="M593.5 769H634.3"/></g>
<g id="e7a2a3a"><text class="t"><tspan x="645" y="757.8">Evaluación inmediata de fuerzas</tspan><tspan x="645" y="761.2">implicadas</tspan></text><path class="u" d="M644.5 762H685.3"/></g>
<g id="e7a2a3b"><text class="t" x="645" y="768.2">Reevaluación</text><path class="u" d="M644.5 769H660.6"/></g>
<g id="e7a2a3c"><text class="t"><tspan x="645" y="774.8">Acción reflexiva o decisión</tspan><tspan x="645" y="778.2">impulsiva</tspan></text><path class="u" d="M644.5 779H680.1"/></g>
<g id="e7a3"><text class="t" x="516" y="790.2">3. Resultados de la evaluación</text><path class="u" d="M515.5 791H555"/></g>
<g id="e7a3a"><text class="t" x="570" y="786.2">1. Acción impulsiva</text><path class="u" d="M569.5 787H594.7"/></g>
<g id="e7a3b"><text class="t" x="570" y="793.2">2. Acción reflexiva</text><path class="u" d="M569.5 794H594.7"/></g>
<g id="e7b"><text class="t" x="490" y="811.7">Tipos de aprendizaje</text><path class="u" d="M489.5 812.5H516"/></g>
<g id="e7b1"><text class="t" x="528" y="800.7">Causa directa</text><path class="u" d="M527.5 801.5H544.9"/></g>
<g id="e7b2"><text class="t" x="528" y="807.2">Provocación</text><path class="u" d="M527.5 808H542.3"/></g>
<g id="e7b3"><text class="t"><tspan x="528" y="814.5">Creencias y actitudes</tspan><tspan x="528" y="817.9">Guiones de comportamiento agresivo</tspan><tspan x="528" y="821.3">Esquemas perceptivos agresivos</tspan><tspan x="528" y="824.7">Expectativas</tspan></text><path class="u" d="M527.5 825.5H572.2"/></g>

<g id="entornos"><rect x="251" y="194" width="36" height="7" rx="3.5" fill="#8edfe2"/><text class="k" x="269" y="198.6">Entornos sociales</text></g>
<g id="s1"><text class="t r"><tspan x="240" y="144.3">Acoso entre iguales (bullying</tspan><tspan x="240" y="147.7">y ciberbullying)</tspan></text><path class="u" d="M201.8 148.5H240.5"/></g>
<g id="s1a"><text class="t r" x="196" y="98.4">Criterios básicos</text><path class="u" d="M173.4 99.2H196.5"/></g>
<g id="s1a1"><text class="t r" x="163" y="95.7">1. Desequilibrio de poder</text><path class="u" d="M130 96.5H163.5"/></g>
<g id="s1a2"><text class="t r" x="163" y="102.2">2. Carácter repetitivo</text><path class="u" d="M133.9 103H163.5"/></g>
<g id="s1b"><text class="t r" x="196" y="125.2">Características</text><path class="u" d="M176 126H196.5"/></g>
<g id="s1b1"><text class="t r"><tspan x="163" y="109.8">Agresión intencional y sistemática de</tspan><tspan x="163" y="113.2">forma repetida</tspan></text><path class="u" d="M114.4 114H163.5"/></g>
<g id="s1b2"><text class="t r" x="163" y="119.7">Víctimas indefensas</text><path class="u" d="M137.8 120.5H163.5"/></g>
<g id="s1b3"><text class="t r"><tspan x="163" y="126.8">Participación de observadores u otras</tspan><tspan x="163" y="130.2">personas</tspan></text><path class="u" d="M113.1 131H163.5"/></g>
<g id="s1b4"><text class="t r" x="163" y="137.2">Violencia física, verbal y psicológica</text><path class="u" d="M113.1 138H163.5"/></g>
<g id="s1c"><text class="t r" x="196" y="154.7">Variantes</text><path class="u" d="M183.8 155.5H196.5"/></g>
<g id="s1c1"><text class="t r" x="172" y="147.7">Directo</text><path class="u" d="M162.4 148.5H172.5"/></g>
<g id="s1c1a"><text class="t r" x="150" y="144.2">Agresión física</text><path class="u" d="M130 145H150.5"/></g>
<g id="s1c1b"><text class="t r" x="150" y="151.2">Amenazas, insultos o humillaciones</text><path class="u" d="M105.3 152H150.5"/></g>
<g id="s1c2"><text class="t r" x="172" y="162.2">Indirecto</text><path class="u" d="M159.8 163H172.5"/></g>
<g id="s1c2a"><text class="t r" x="145" y="158.2">Rumores y difamación</text><path class="u" d="M118.5 159H145.5"/></g>
<g id="s1c2b"><text class="t r" x="145" y="165.2">Exclusión social</text><path class="u" d="M123.7 166H145.5"/></g>
<g id="s1d"><text class="t r" x="196" y="180.2">Ciberacoso (cyberbullying)</text><path class="u" d="M161.7 181H196.5"/></g>
<g id="s1d1"><text class="t r" x="151" y="172.7">Ámbito escolar</text><path class="u" d="M132.3 173.5H151.5"/></g>
<g id="s1d2"><text class="t r" x="151" y="180.2">Redes sociales e internet</text><path class="u" d="M118 181H151.5"/></g>
<g id="s1d3"><text class="t r" x="151" y="187.2">Entre personas desconocidas</text><path class="u" d="M115.4 188H151.5"/></g>
<g id="s1e"><text class="t r" x="196" y="198.2">Consecuencias</text><path class="u" d="M178.6 199H196.5"/></g>
<g id="s1e1"><text class="t r" x="163" y="194.2">Víctimas</text><path class="u" d="M152.1 195H163.5"/></g>
<g id="s1e2"><text class="t r" x="163" y="201.7">Agresores y observadores</text><path class="u" d="M131.3 202.5H163.5"/></g>
<g id="s2"><text class="t r" x="240" y="242.7">Medios de comunicación</text><path class="u" d="M210.9 243.5H240.5"/></g>
<g id="s2a"><text class="t r" x="197" y="211.2">Hipótesis</text><path class="u" d="M184.8 212H197.5"/></g>
<g id="s2a1"><text class="t r" x="167" y="207.7">1. Violencia general percibida en la realidad</text><path class="u" d="M108 208.5H167.5"/></g>
<g id="s2a2"><text class="t r"><tspan x="167" y="215.3">2. Consumo de violencia mediante la</tspan><tspan x="167" y="218.7">identificación con personajes</tspan></text><path class="u" d="M121 219.5H167.5"/></g>
<g id="s2b"><text class="t r" x="197" y="242.7">Efectos a corto plazo</text><path class="u" d="M169.2 243.5H197.5"/></g>
<g id="s2b1"><text class="t r" x="158" y="226.2">Ira e irritabilidad</text><path class="u" d="M132.8 227H158.5"/></g>
<g id="s2b2"><text class="t r"><tspan x="158" y="232.8">Cogniciones, sentimientos y excitación</tspan><tspan x="158" y="236.2">fisiológica agresivas</tspan></text><path class="u" d="M108.1 237H158.5"/></g>
<g id="s2b3"><text class="t r" x="158" y="242.7">Diferencias individuales</text><path class="u" d="M126.3 243.5H158.5"/></g>
<g id="s2b4"><text class="t r" x="158" y="256.7">Diferencias de género</text><path class="u" d="M130.2 257.5H158.5"/></g>
<g id="s2b4a"><rect class="lb" x="70" y="246.3" width="49" height="8"/><text class="t r"><tspan x="118" y="249.5"><tspan class="b">Experimento Bushman, 2008</tspan>: uso de</tspan><tspan x="118" y="252.9">videojuegos y agresión posterior</tspan></text></g>
<g id="s2b4b"><text class="t r b" x="118" y="260.2">Efecto Proteus (Yee y Bailenson, 2007)</text><path class="u" d="M64.3 261H118.5"/></g>
<g id="s2b4b1"><text class="t r" x="57" y="260.2">Desindividuación</text><path class="u" d="M35.7 261H57.5"/></g>
<g id="s2c"><text class="t r" x="197" y="275.2">Efectos a largo plazo</text><path class="u" d="M169.2 276H197.5"/></g>
<g id="s2c1"><text class="t r" x="158" y="268.2">Desensibilización ante la violencia</text><path class="u" d="M112 269H158.5"/></g>
<g id="s2c2"><text class="t r" x="158" y="275.2">Habituación</text><path class="u" d="M143.2 276H158.5"/></g>
<g id="s2c3"><text class="t r"><tspan x="158" y="282.8">Disminución de la empatía hacia la</tspan><tspan x="158" y="286.2">víctima y la violencia</tspan></text><path class="u" d="M113.3 287H158.5"/></g>
<g id="s2c3a"><text class="t r" x="93" y="282.7">Insensibilidad</text><path class="u" d="M74.3 283.5H93.5"/></g>
<g id="s2c3b"><text class="t r" x="93" y="290.2">Desactivación de la excitación</text><path class="u" d="M53.5 291H93.5"/></g>

<g id="antecedentes"><rect x="257" y="492" width="30" height="7" rx="3.5" fill="#9fe4ec"/><text class="k" x="272" y="496.6">Antecedentes</text></g>
<g id="a1"><text class="t r" x="240" y="385.2">Variables internas</text><path class="u" d="M216.1 386H240.5"/></g>
<g id="a1a"><text class="t r" x="207" y="301.7">Influencias hormonales</text><path class="u" d="M177.9 302.5H207.5"/></g>
<g id="a1b"><text class="t r" x="207" y="364.2">Rasgos de personalidad</text><path class="u" d="M177.9 365H207.5"/></g>
<g id="a1b1"><text class="t r" x="170" y="309.2">Agresividad</text><path class="u" d="M155.2 310H170.5"/></g>
<g id="a1b2"><text class="t r" x="170" y="316.7">Impulsividad</text><path class="u" d="M153.9 317.5H170.5"/></g>
<g id="a1b2a"><text class="t r" x="143" y="316.7">Susceptibilidad emocional</text><path class="u" d="M110 317.5H143.5"/></g>
<g id="a1b3"><text class="t r" x="170" y="327.7">Narcisismo</text><path class="u" d="M156.5 328.5H170.5"/></g>
<g id="a1b3a"><text class="t r" x="144" y="324.2">Ira: rumiación de la provocación</text><path class="u" d="M101.9 325H144.5"/></g>
<g id="a1b3b"><text class="t r" x="144" y="331.2">Amenaza a la autoimagen positiva</text><path class="u" d="M101.9 332H144.5"/></g>
<g id="a1b4"><text class="t r" x="170" y="338.7">Autoestima</text><path class="u" d="M156.5 339.5H170.5"/></g>
<g id="a1b5"><text class="t r" x="170" y="353.2">Psicopatía</text><path class="u" d="M156.5 354H170.5"/></g>
<g id="a1b5a"><text class="t r" x="143" y="346.2">Ausencia de remordimiento y culpa</text><path class="u" d="M99.6 347H143.5"/></g>
<g id="a1b5b"><text class="t r" x="143" y="353.2">Frialdad y falta de empatía</text><path class="u" d="M107.4 354H143.5"/></g>
<g id="a1b5c"><text class="t r" x="143" y="360.2">Crueldad</text><path class="u" d="M132.1 361H143.5"/></g>
<g id="a1b6"><text class="t r" x="170" y="382.7">Sensibilidad</text><path class="u" d="M153.9 383.5H170.5"/></g>
<g id="a1b6a"><rect class="hl" x="88.5" y="365" width="56" height="8.5"/><text class="t r"><tspan x="143.5" y="368.3">Sensibilidad a la injusticia desde la</tspan><tspan x="143.5" y="371.7">perspectiva de la víctima <tspan class="b">(Schmitt, 2005)</tspan></tspan></text></g>
<g id="a1b6b"><text class="t r" x="144" y="377.7">Sentimiento de ser víctima de otros</text><path class="u" d="M98 378.5H144.5"/></g>
<g id="a1b6c"><text class="t r"><tspan x="144" y="384.3">Percepción hostil y de amenaza en el</tspan><tspan x="144" y="387.7">entorno social</tspan></text><path class="u" d="M96.7 388.5H144.5"/></g>
<g id="a1b6d"><text class="t r" x="144" y="395.2">Agresión desplazada</text><path class="u" d="M118.8 396H144.5"/></g>
<g id="a1b7"><text class="t r" x="170" y="419.2">Autorregulación</text><path class="u" d="M150 420H170.5"/></g>
<g id="a1b7a"><text class="t r"><tspan x="141" y="401.8">Déficit en autorregulación del afecto y</tspan><tspan x="141" y="405.2">control de impulsos</tspan></text><path class="u" d="M89.8 406H141.5"/></g>
<g id="a1b7b"><text class="t r"><tspan x="141" y="412.3">Déficit en autorregulación de funciones</tspan><tspan x="141" y="415.7">cognitivas (atención)</tspan></text><path class="u" d="M89.8 416.5H141.5"/></g>
<g id="a1b7c"><text class="t r" x="141" y="433.2">Creencias normativas sobre la agresión</text><path class="u" d="M91.1 434H141.5"/></g>
<g id="a1b7c1"><text class="t r" x="75" y="423.7">Ingesta de alcohol</text><path class="u" d="M51.1 424.5H75.5"/></g>
<g id="a1b7c2"><text class="t r" x="75" y="430.2">Estilo de crianza</text><path class="u" d="M52.4 431H75.5"/></g>
<g id="a1b7c3"><text class="t r" x="75" y="436.7">Falta de pertenencia</text><path class="u" d="M48.5 437.5H75.5"/></g>
<g id="a1b7c4"><text class="t r" x="75" y="443.7">Búsqueda de sensaciones</text><path class="u" d="M44.6 444.5H75.5"/></g>
<g id="a1c"><text class="t r" x="207" y="469.2">Diferencias de género</text><path class="u" d="M179.2 470H207.5"/></g>
<g id="a1c1"><text class="t r" x="173" y="450.7">Hombres: más agresión física y directa</text><path class="u" d="M123.1 451.5H173.5"/></g>
<g id="a1c2"><text class="t r"><tspan x="173" y="457.8">Mujeres: similar en agresión indirecta y</tspan><tspan x="173" y="461.2">relacional</tspan></text><path class="u" d="M120.5 462H173.5"/></g>
<g id="a1c3"><text class="t r" x="173" y="486.7">Explicaciones teóricas</text><path class="u" d="M143.9 487.5H173.5"/></g>
<g id="a1c3a"><rect class="hl" x="82" y="471" width="46.5" height="8.5"/><text class="t r"><tspan x="127.5" y="474.3">Perspectiva evolucionista <tspan class="b">(Archer,</tspan></tspan><tspan class="b" x="127.5" y="477.7">2009)</tspan></text></g>
<g id="a1c3a1"><text class="t r"><tspan x="63" y="467.8">Agresión directa en hombres: poder y</tspan><tspan x="63" y="471.2">éxito reproductivo</tspan></text><path class="u" d="M15.7 472H63.5"/></g>
<g id="a1c3a2"><text class="t r"><tspan x="63" y="478.3">Agresión indirecta en mujeres: cuidado y</tspan><tspan x="63" y="481.7">protección de la descendencia</tspan></text><path class="u" d="M10.5 482.5H63.5"/></g>
<g id="a1c3b"><rect class="hl" x="80.7" y="492.5" width="47.8" height="5"/><text class="t r" x="127.5" y="495.9">Teoría del rol social <tspan class="b">(Eagly, 1987)</tspan></text></g>
<g id="a1c3b1"><text class="t r" x="72" y="488.7">Rol de género masculino: dominación</text><path class="u" d="M26 489.5H72.5"/></g>
<g id="a1c3b2"><text class="t r" x="72" y="496.2">Rol de género femenino: cuidado y protección</text><path class="u" d="M14.3 497H72.5"/></g>
<g id="a1c3b3"><text class="t r"><tspan x="72" y="503.3"><tspan class="b">Experimento rol de género:</tspan> los</tspan><tspan x="72" y="506.7">hombres agreden más si son observados</tspan></text><path class="u" d="M24 507.5H72.5"/></g>
<g id="a2"><text class="t r" x="240" y="600.2">Variables situacionales</text><path class="u" d="M209.6 601H240.5"/></g>
<g id="a2a"><text class="t r" x="202" y="546.7">Interacciones sociales</text><path class="u" d="M172.9 547.5H202.5"/></g>
<g id="a2a1"><text class="t r" x="167" y="516.2">Provocación</text><path class="u" d="M152.2 517H167.5"/></g>
<g id="a2a1a"><text class="t r" x="140" y="513.2">Desencadenante más importante</text><path class="u" d="M101.8 514H140.5"/></g>
<g id="a2a1b"><text class="t r" x="140" y="520.7">Agresión reactiva</text><path class="u" d="M117.4 521.5H140.5"/></g>
<g id="a2a2"><text class="t r" x="167" y="533.2">Desindividuación y anonimato</text><path class="u" d="M130.1 534H167.5"/></g>
<g id="a2a2a"><text class="t r"><tspan x="117" y="527.4"><tspan class="b">Experimento Zimbardo, 1969</tspan>: las</tspan><tspan x="117" y="530.8">personas anónimas aplicaron más</tspan><tspan x="117" y="534.2">descargas eléctricas</tspan></text><path class="u" d="M73.6 535H117.5"/></g>
<g id="a2a3"><text class="t r" x="167" y="552.7">Desplazamiento</text><path class="u" d="M148.3 553.5H167.5"/></g>
<g id="a2a3a"><text class="t r" x="133" y="541.7">Ira desplazada</text><path class="u" d="M114.3 542.5H133.5"/></g>
<g id="a2a3a1"><text class="t r" x="105" y="541.7">Hacia objetivos inocentes</text><path class="u" d="M72 542.5H105.5"/></g>
<g id="a2a3b"><text class="t r" x="133" y="549.7">Chivo expiatorio</text><path class="u" d="M111.7 550.5H133.5"/></g>
<g id="a2a3b1"><text class="t r" x="106" y="549.7">Desplazamiento a objetivos más débiles</text><path class="u" d="M56.1 550.5H106.5"/></g>
<g id="a2a3c"><text class="t r"><tspan class="b" x="133" y="557.4">Marcus-Newhall et al., 2000:</tspan><tspan x="133" y="560.8">mayor agresión desplazada hacia</tspan><tspan x="133" y="564.2">objetivos similares</tspan></text><path class="u" d="M92.2 565H133.5"/></g>
<g id="a2a4"><text class="t r" x="167" y="576.2">Excitación</text><path class="u" d="M153.5 577H167.5"/></g>
<g id="a2a4a"><text class="t r" x="135" y="576.2">Experimentos de laboratorio</text><path class="u" d="M99.4 577H135.5"/></g>
<g id="a2a4a1"><rect class="hl" x="53.4" y="567.5" width="35.1" height="5"/><text class="t r" x="87.8" y="570.9">Contexto <tspan class="b">(Zillmann, 1983)</tspan></text></g>
<g id="a2a4a2"><rect class="hl" x="45.9" y="575" width="42.6" height="8.5"/><text class="t r"><tspan x="87.8" y="578.3">Teoría de la transferencia de la</tspan><tspan class="b" x="87.8" y="581.7">excitación (Zillmann, 1971)</tspan></text></g>
<g id="a2b"><text class="t r" x="202" y="653.2">Estímulos ambientales</text><path class="u" d="M174.2 654H202.5"/></g>
<g id="a2b1"><text class="t r" x="163" y="595.7">Alcohol</text><path class="u" d="M153.4 596.5H163.5"/></g>
<g id="a2b1a"><text class="t r" x="143" y="588.7">Miopía alcohólica</text><path class="u" d="M120.4 589.5H143.5"/></g>
<g id="a2b1b"><text class="t r" x="143" y="595.7">Estudios de campo sobre el alcohol</text><path class="u" d="M98.3 596.5H143.5"/></g>
<g id="a2b1c"><text class="t r" x="143" y="603.2">Estudios de laboratorio con alcohol</text><path class="u" d="M97 604H143.5"/></g>
<g id="a2b2"><text class="t r" x="163" y="613.2">Armas</text><path class="u" d="M156 614H163.5"/></g>
<g id="a2b2a"><text class="t r"><tspan class="b" x="140" y="610.8">Experimento Bartholow et al.,</tspan><tspan x="140" y="614.2"><tspan class="b">2005</tspan>: cazadores y armas</tspan></text><path class="u" d="M98.9 615H140.5"/></g>
<g id="a2b3"><text class="t r" x="163" y="628.7">Presencia de armas</text><path class="u" d="M139.1 629.5H163.5"/></g>
<g id="a2b3a"><rect class="hl" x="69" y="618.3" width="58.5" height="5"/><text class="t r" x="126.8" y="621.7">Efecto de las armas <tspan class="b">(Berkowitz y LePage, 1967)</tspan></text></g>
<g id="a2b3b"><text class="t r"><tspan x="127" y="628"><tspan class="b">Anderson et al., 1998:</tspan> la presencia</tspan><tspan x="127" y="631.4">de armas activa pensamientos</tspan><tspan x="127" y="634.8">agresivos y aumenta la</tspan><tspan x="127" y="638.2">agresión</tspan></text><path class="u" d="M83.5 639H127.5"/></g>
<g id="a2b4"><text class="t r" x="163" y="662.2">Temperatura</text><path class="u" d="M148.2 663H163.5"/></g>
<g id="a2b4a"><text class="t r" x="133" y="647.7">Hacinamiento y densidad</text><path class="u" d="M102.6 648.5H133.5"/></g>
<g id="a2b4a1"><text class="t r" x="88" y="644.2">Densidad social y espacial</text><path class="u" d="M53.7 645H88.5"/></g>
<g id="a2b4a2"><text class="t r" x="88" y="651.7">Densidad percibida</text><path class="u" d="M64.1 652.5H88.5"/></g>
<g id="a2b4b"><text class="t r"><tspan x="133" y="658.8">Aumento de la agresión y de la violencia</tspan><tspan x="133" y="662.2">colectiva</tspan></text><path class="u" d="M80.5 663H133.5"/></g>
<g id="a2b4c"><text class="t r" x="133" y="669.2">Excitación y afecto negativo</text><path class="u" d="M96.1 670H133.5"/></g>
<g id="a2b4d"><text class="t r" x="133" y="676.2">Mayor aceptación de la violencia</text><path class="u" d="M90.9 677H133.5"/></g>
<g id="a2b5"><text class="t r" x="163" y="711.7">Ruido</text><path class="u" d="M156 712.5H163.5"/></g>
<g id="a2b5a"><text class="t r" x="144" y="683.2">Olores desagradables y humo</text><path class="u" d="M108.4 684H144.5"/></g>
<g id="a2b5b"><text class="t r"><tspan x="144" y="690.8">Distracción, emociones y conductas</tspan><tspan x="144" y="694.2">agresivas</tspan></text><path class="u" d="M99.3 695H144.5"/></g>
<g id="a2b5c"><text class="t r" x="144" y="700.7">Presencia de estímulos</text><path class="u" d="M114.9 701.5H144.5"/></g>
<g id="a2b5c1"><text class="t r" x="98" y="700.7">Accesibilidad cognitiva</text><path class="u" d="M67.6 701.5H98.5"/></g>
<g id="a2b5d"><text class="t r"><tspan class="b" x="144" y="708.3">Estudio Isaac y Cripps, 1984</tspan><tspan x="144" y="711.7">efecto del ruido en la agresión</tspan></text><path class="u" d="M103.2 712.5H144.5"/></g>
<g id="a2b5e"><text class="t r"><tspan class="b" x="144" y="718.3">Experimento Bushman et al., 2011:</tspan><tspan x="144" y="721.7">ruido y agresión competitiva</tspan></text><path class="u" d="M97.3 722.5H144.5"/></g>
<g id="a2b5f"><text class="t r"><tspan class="b" x="144" y="729.4">Experimento de campo Kim et al., 2016:</tspan><tspan x="144" y="732.8">contaminación acústica y agresión</tspan><tspan x="144" y="736.2">en el tráfico</tspan></text><path class="u" d="M90.3 737H144.5"/></g>

<text id="watermark" x="351" y="844" font-family="Liberation Sans, Arial, sans-serif" font-size="3" fill="#c4c4c4" text-anchor="middle">Presented with xmind</text>
</svg>
